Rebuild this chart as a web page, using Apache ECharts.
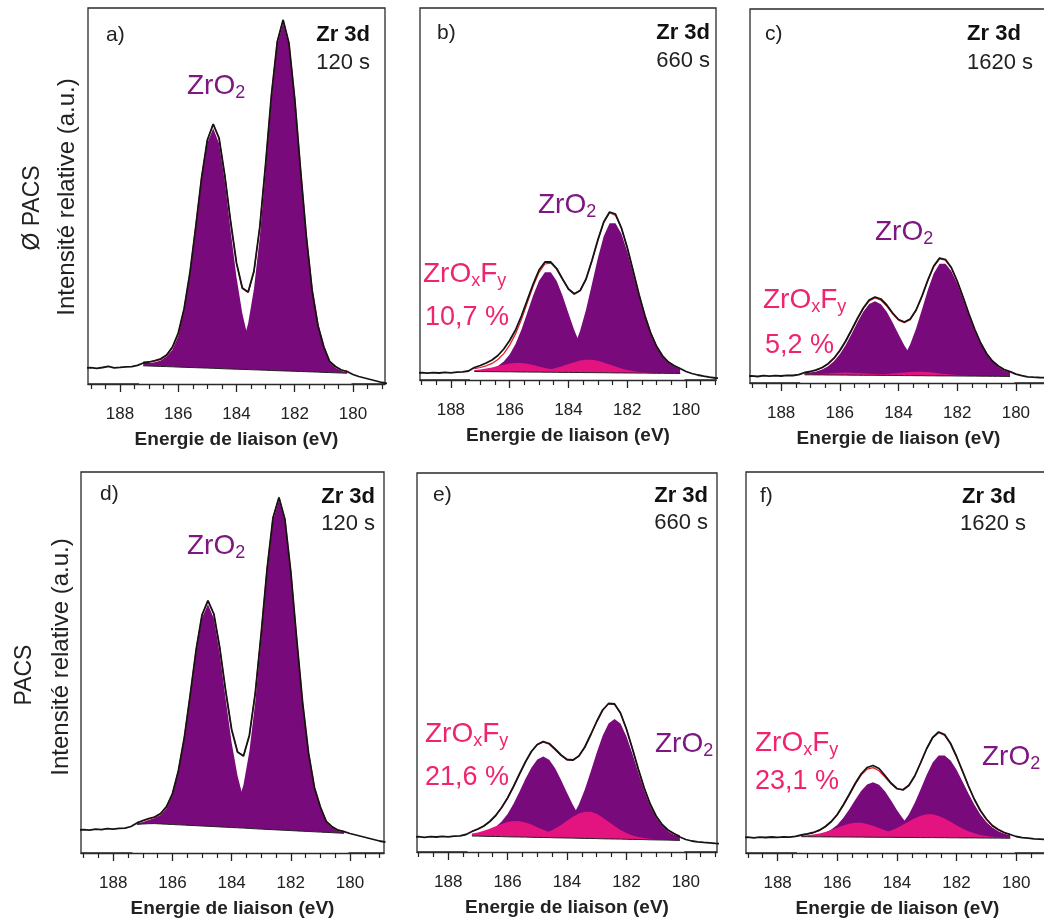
<!DOCTYPE html>
<html>
<head>
<meta charset="utf-8">
<script src="https://cdn.jsdelivr.net/npm/echarts@6/dist/echarts.min.js"></script>
<style>html,body{margin:0;padding:0;background:#fff}#chart{width:1044px;height:922px}</style>
</head>
<body>
<div id="chart"></div>
<script>
// ---------- DATA (intensity in a.u.) ----------
const energy = [189.2,189.0,188.8,188.6,188.4,188.2,188.0,187.8,187.6,187.4,187.2,187.0,186.8,186.6,186.4,186.2,186.0,185.8,185.6,185.4,185.2,185.0,184.8,184.6,184.4,184.2,184.0,183.8,183.6,183.4,183.2,183.0,182.8,182.6,182.4,182.2,182.0,181.8,181.6,181.4,181.2,181.0,180.8,180.6,180.4,180.2,180.0,179.8,179.6,179.4,179.2,179.0,178.8];
const fitEnergy = [187.2,187.0,186.8,186.6,186.4,186.2,186.0,185.8,185.6,185.4,185.2,185.0,184.8,184.6,184.4,184.2,184.0,183.8,183.6,183.4,183.2,183.0,182.8,182.6,182.4,182.2,182.0,181.8,181.6,181.4,181.2,181.0,180.8,180.6,180.4,180.2];
const majorTicks = [180, 182, 184, 186, 188];
const minorTicks = [179, 179.5, 180.5, 181, 181.5, 182.5, 183, 183.5, 184.5, 185, 185.5, 186.5, 187, 187.5, 188.5, 189];
const etchTimes = ['120 s', '660 s', '1620 s'];
const oxyfluoridePct = ['10,7 %', '5,2 %', '21,6 %', '23,1 %'];

// a) Ø PACS 120 s
const rawA = [16,16.4,15.6,16.5,17.6,16.2,16.6,17.1,17.4,18.6,21,22,23.5,25.2,29,37,51,75,111,157,206,244,260,246,208,162,121,96,92,113,157,220,289,342,364,341,285,214,147,93,58,37,22.5,17.5,14,12.5,9.5,7.5,6,4.5,3,1.5,0.5];
const backgroundA = [18.2,18.0,17.8,17.6,17.4,17.2,16.9,16.7,16.5,16.3,16.1,15.9,15.7,15.5,15.2,15.0,14.8,14.6,14.4,14.2,14.0,13.8,13.5,13.3,13.1,12.9,12.7,12.5,12.3,12.1,11.9,11.6,11.4,11.2,11.0,10.8];
const zro2_52_A = [1,1,1,1,1,2,2,2,2,3,3,3,4,5,6,9,14,25,46,81,133,200,271,326,348,326,271,200,133,81,46,25,10,5,2,1];
const zro2_32_A = [3,3,4,6,10,17,31,56,92,138,187,225,240,225,187,138,92,56,31,17,10,6,4,3,3,2,2,2,2,1,1,1,1,1,1,1];

// b) Ø PACS 660 s
const rawB = [7.0,7.3,6.8,7.4,7.0,7.6,7.2,7.9,8.2,9.0,12.5,14.5,17,20,24.5,31,39.5,50,64,80,96,110,118,118,111.5,101,91,86,89.5,101,119.5,140,158,168,166,152.2,132.5,109.2,85.5,64.4,46.8,33.5,24.2,18,14.2,11.5,8.5,6.5,5,3.8,2.8,2.0,1.6];
const backgroundB = [8.5,8.4,8.4,8.3,8.3,8.2,8.2,8.1,8.0,8.0,7.9,7.9,7.8,7.8,7.7,7.6,7.6,7.5,7.5,7.4,7.4,7.3,7.3,7.2,7.1,7.1,7.0,7.0,6.9,6.9,6.8,6.7,6.7,6.6,6.6,6.5];
const zro2_52_B = [0.4,0.5,0.5,0.6,0.6,0.7,0.8,0.8,0.9,1.1,1.3,1.6,2.1,3.1,5.0,8.7,15.2,25.9,41.9,63.2,88.5,114.5,136.5,149.6,149.7,139.5,121.6,99.5,76.7,56.0,38.9,25.9,16.7,10.7,7.0,4.5];
const zro2_32_B = [1.0,1.4,2.1,3.3,5.8,10.2,17.4,28.0,42.3,59.2,76.6,91.3,99.9,99.9,91.3,76.6,59.2,42.3,28.0,17.4,10.2,5.8,3.3,2.1,1.4,1.0,0.8,0.7,0.6,0.6,0.5,0.5,0.4,0.4,0.3,0.3];
const zroxfy_52_B = [0.1,0.1,0.1,0.1,0.1,0.2,0.2,0.3,0.3,0.5,0.8,1.2,1.9,3.0,4.5,6.3,8.3,10.3,11.9,12.9,12.9,11.9,10.3,8.3,6.3,4.5,3.0,1.9,1.2,0.8,0.5,0.3,0.3,0.2,0.2,0.1];
const zroxfy_32_B = [1.3,2.1,3.1,4.3,5.7,7.1,8.3,8.9,8.9,8.3,7.1,5.7,4.3,3.1,2.1,1.3,0.8,0.5,0.3,0.2,0.2,0.2,0.1,0.1,0.1,0.1,0.1,0.1,0.1,0.1,0.1,0.1,0.1,0.1,0.1,0.1];

// c) Ø PACS 1620 s
const rawC = [6.8,7.1,6.5,7.3,6.9,7.4,7.0,7.6,7.5,8.3,10.3,11.5,13.2,15.5,19.3,24.8,32.5,42,53,64.5,75,83,86,84,78,70,63.5,61,64,73,87,103,117,125,123.5,115.5,102,86,69,53.5,40,29.5,22,17,13.5,11.3,8.8,7.3,6.2,5.8,5.5,5.3,5.1];
const backgroundC = [8.2,8.2,8.1,8.1,8.0,8.0,7.9,7.9,7.8,7.8,7.7,7.7,7.7,7.6,7.6,7.5,7.5,7.4,7.4,7.3,7.3,7.2,7.2,7.1,7.1,7.1,7.0,7.0,6.9,6.9,6.8,6.8,6.7,6.7,6.6,6.6];
const zro2_52_C = [0.3,0.3,0.4,0.4,0.5,0.5,0.6,0.6,0.7,0.8,0.9,1.2,1.5,2.3,3.7,6.5,11.4,19.4,31.3,47.3,66.2,85.7,102.2,112.1,112.1,105.0,92.5,76.9,60.5,45.2,32.1,21.9,14.5,9.4,6.1,4.1];
const zro2_32_C = [1.6,2.3,3.5,5.5,8.7,13.8,20.9,30.2,41.3,52.9,63.6,71.2,74,71.2,63.6,52.9,41.3,30.2,20.9,13.8,8.7,5.5,3.5,2.3,1.6,1.3,1.0,0.9,0.8,0.7,0.6,0.6,0.5,0.5,0.4,0.4];
const zroxfy_52_C = [0.1,0.1,0.1,0.1,0.1,0.1,0.1,0.1,0.1,0.2,0.2,0.4,0.6,0.9,1.4,1.9,2.5,3.2,3.7,4.0,4.0,3.7,3.2,2.5,1.9,1.4,0.9,0.6,0.4,0.2,0.2,0.1,0.1,0.1,0.1,0.1];
const zroxfy_32_C = [0.4,0.6,0.9,1.2,1.6,2.0,2.3,2.5,2.5,2.3,2.0,1.6,1.2,0.9,0.6,0.4,0.2,0.1,0.1,0.1,0.1,0.1,0.1,0.1,0.1,0.1,0.1,0.1,0.1,0.1,0.1,0.1,0.1,0.1,0.1,0.1];

// d) PACS 120 s
const rawD = [22.8,23.4,22.9,23.8,23.3,24.4,23.9,24.6,24.9,26.5,30,32.5,34.5,36,39.5,46.3,59.2,82.1,115,158,203,238,252.3,239,205,162,123.5,101,97,117.6,160,219.4,284.4,335.3,355.4,333.8,281.2,213.7,150.2,99.8,65.3,45.9,31.5,26.1,22.8,21.4,19.5,18,16.5,15,13.5,12,10.8];
const backgroundD = [28.6,29.0,29.3,29.4,29.1,28.8,28.5,28.2,27.9,27.6,27.3,27.0,26.7,26.4,26.1,25.8,25.5,25.2,24.9,24.6,24.2,23.9,23.6,23.3,23.0,22.7,22.4,22.1,21.8,21.5,21.2,20.9,20.6,20.3,20.0,19.7];
const zro2_52_D = [1,1,1,1,1,1.5,1.7,1.9,2.1,2.4,2.7,3.1,3.6,4.5,6,8,13,24,43,77,127,190,257,309,330,309,257,190,127,77,43,24,10,5,2,1];
const zro2_32_D = [1,2,3.8,5.5,9,16,29,52,85,128,173,208,222,208,173,128,85,52,29,16,9,5.5,3.8,3.0,2.4,2.1,1.8,1.6,1.4,1.3,1.1,1.0,0.9,0.8,0.8,0.7];

// e) PACS 660 s
const rawE = [14.8,15.3,14.7,15.4,15.0,15.6,15.2,15.8,16.2,17.5,20.5,23,26,30.5,36.5,44.5,54,65.5,78,90,100.5,107.5,110.5,108.5,103,97,92.5,92,96,105,117.5,130.5,142,148.5,148,139,123,103.5,83,64,48,36,27.5,22,18.5,15,12.5,11,10.2,9.6,9.1,8.6,8.3];
const backgroundE = [16.0,15.9,15.7,15.6,15.5,15.4,15.2,15.1,15.0,14.9,14.7,14.6,14.5,14.4,14.2,14.1,14.0,13.9,13.7,13.6,13.5,13.4,13.2,13.1,13.0,12.9,12.7,12.6,12.5,12.4,12.2,12.1,12.0,11.9,11.7,11.6];
const zro2_52_E = [0.6,0.6,0.7,0.8,0.8,0.9,1.0,1.1,1.2,1.4,1.7,2.1,2.7,3.7,5.6,8.9,14.2,22.3,33.9,49.0,66.9,85.9,103.1,115.5,120,115.5,103.1,85.9,66.9,49.0,33.9,22.3,14.2,8.9,5.6,3.7];
const zro2_32_E = [1.8,2.5,3.8,6.0,9.6,15.1,22.9,33.1,45.2,58.0,69.6,77.9,81,77.9,69.6,58.0,45.2,33.1,22.9,15.1,9.6,6.0,3.8,2.5,1.8,1.4,1.1,1.0,0.8,0.8,0.7,0.6,0.6,0.5,0.5,0.4];
const zroxfy_52_E = [0.2,0.2,0.2,0.3,0.3,0.4,0.4,0.5,0.7,1.0,1.6,2.5,4.0,6.2,9.2,13.0,17.2,21.4,24.8,26.7,26.7,24.8,21.4,17.2,13.0,9.2,6.2,4.0,2.5,1.6,1.0,0.7,0.5,0.4,0.4,0.3];
const zroxfy_32_E = [2.4,3.7,5.5,7.7,10.2,12.7,14.7,15.8,15.8,14.7,12.7,10.2,7.7,5.5,3.7,2.4,1.5,0.9,0.6,0.4,0.3,0.2,0.2,0.1,0.1,0.1,0.1,0.1,0.1,0.1,0.1,0.1,0.1,0.1,0.1,0.1];

// f) PACS 1620 s
const rawF = [15.4,15.8,15.2,15.9,15.5,16.0,15.6,16.1,15.9,16.6,18,19.2,20.5,22.8,26.5,31.5,38.5,48,58.5,69.5,79,85.5,87.5,84.5,77.5,70,64.5,63,67.5,77,90.5,104.5,115.5,121,118.5,109.5,96.5,82,67,53.5,42.5,34,27.5,23.5,20.5,18.5,16.5,15.3,14.8,14.2,13.8,13.4,13.2];
const backgroundF = [16.3,16.3,16.2,16.2,16.1,16.1,16.0,16.0,16.0,15.9,15.9,15.8,15.8,15.7,15.7,15.7,15.6,15.6,15.5,15.5,15.4,15.4,15.4,15.3,15.3,15.2,15.2,15.1,15.1,15.1,15.0,15.0,14.9,14.9,14.8,14.8];
const zro2_52_F = [0.2,0.2,0.3,0.3,0.3,0.4,0.4,0.5,0.5,0.6,0.7,0.9,1.1,1.7,2.7,4.8,8.4,14.3,23.0,34.7,48.6,62.9,75.0,82.3,82.3,77.2,68.0,56.5,44.4,33.2,23.6,16.1,10.6,6.9,4.5,3.0];
const zro2_32_F = [0.6,0.9,1.4,2.4,4.2,7.3,12.1,18.9,27.5,37.0,46.0,52.6,55,52.6,46.0,37.0,27.5,18.9,12.1,7.3,4.2,2.4,1.4,0.9,0.6,0.5,0.4,0.4,0.3,0.3,0.3,0.3,0.2,0.2,0.2,0.2];
const zroxfy_52_F = [0.2,0.2,0.2,0.2,0.3,0.3,0.3,0.4,0.5,0.6,0.9,1.3,2.0,3.0,4.6,6.7,9.4,12.6,16.0,19.2,21.8,23.3,23.3,21.8,19.2,16.0,12.6,9.4,6.7,4.6,3.0,2.0,1.3,0.9,0.6,0.5];
const zroxfy_32_F = [0.8,1.4,2.2,3.3,5.0,7.0,9.2,11.5,13.3,14.4,14.4,13.3,11.5,9.2,7.0,5.0,3.3,2.2,1.4,0.8,0.5,0.4,0.3,0.2,0.2,0.1,0.1,0.1,0.1,0.1,0.1,0.1,0.1,0.1,0.1,0.1];

// ---------- LAYOUT / STYLE ----------
const FONT = '"Liberation Sans", Arial, Helvetica, sans-serif';
const PURPLE = '#790a7b', PINK = '#e3147f', FIT = '#e31a1f', INK = '#141414';
const LABEL_PURPLE = '#7e1780', LABEL_PINK = '#f0246e';
const axisTitle = 'Energie de liaison (eV)';

const panels = [
  { id: 'a)', time: etchTimes[0], raw: rawA, bg: backgroundA, zro2: [zro2_52_A, zro2_32_A], zroxfy: [], box: [88, 8, 297, 376], x: [178.9, 189.1] },
  { id: 'b)', time: etchTimes[1], raw: rawB, bg: backgroundB, zro2: [zro2_52_B, zro2_32_B], zroxfy: [zroxfy_52_B, zroxfy_32_B], box: [420, 8, 296, 372], x: [178.98, 189.05] },
  { id: 'c)', time: etchTimes[2], raw: rawC, bg: backgroundC, zro2: [zro2_52_C, zro2_32_C], zroxfy: [zroxfy_52_C, zroxfy_32_C], box: [750, 9, 297, 374], x: [178.94, 189.06] },
  { id: 'd)', time: etchTimes[0], raw: rawD, bg: backgroundD, zro2: [zro2_52_D, zro2_32_D], zroxfy: [], box: [81, 472, 303, 381], x: [178.85, 189.09] },
  { id: 'e)', time: etchTimes[1], raw: rawE, bg: backgroundE, zro2: [zro2_52_E, zro2_32_E], zroxfy: [zroxfy_52_E, zroxfy_32_E], box: [417, 473, 300, 379], x: [178.95, 189.05] },
  { id: 'f)', time: etchTimes[2], raw: rawF, bg: backgroundF, zro2: [zro2_52_F, zro2_32_F], zroxfy: [zroxfy_52_F, zroxfy_32_F], box: [746, 472, 303, 381], x: [178.9, 189.06] }
];

const grid = [], xAxis = [], yAxis = [], series = [];
panels.forEach((p, i) => {
  grid.push({ left: p.box[0], top: p.box[1], width: p.box[2], height: p.box[3], show: true,
    borderColor: '#2a2a2a', borderWidth: 1.3, backgroundColor: 'rgba(0,0,0,0)', containLabel: false, outerBoundsMode: 'none' });
  xAxis.push({ gridIndex: i, type: 'value', inverse: true, min: p.x[0], max: p.x[1], position: 'bottom', z: 10,
    axisLine: { show: true, onZero: false, lineStyle: { color: '#2a2a2a', width: 1.3 } },
    axisTick: { show: true, customValues: majorTicks, length: 8, lineStyle: { color: '#222', width: 1.3 } },
    axisLabel: { show: true, customValues: majorTicks, margin: 22, fontSize: 17, color: '#222', fontFamily: FONT },
    splitLine: { show: false },
    name: axisTitle, nameLocation: 'middle', nameGap: 46, nameMoveOverlap: false,
    nameTextStyle: { fontSize: 19, fontWeight: 'bold', color: '#222', fontFamily: FONT } });
  xAxis.push({ gridIndex: i, type: 'value', inverse: true, min: p.x[0], max: p.x[1], position: 'bottom', z: 10,
    axisLine: { show: false }, axisLabel: { show: false }, splitLine: { show: false },
    axisTick: { show: true, customValues: minorTicks, length: 5, lineStyle: { color: '#222', width: 1.2 } } });
  yAxis.push({ gridIndex: i, type: 'value', min: 0, max: p.box[3], show: false });

  const base = { type: 'line', xAxisIndex: 2 * i, yAxisIndex: i, symbol: 'none', showSymbol: false,
    silent: true, animation: false, clip: true };
  const bgPoints = fitEnergy.map((e, k) => [e, p.bg[k]]);
  const last = fitEnergy.length - 1;
  const comps = p.zro2.map(c => [c, PURPLE]).concat(p.zroxfy.map(c => [c, PINK]));
  comps.forEach(([c, col]) => series.push(Object.assign({}, base, {
    data: fitEnergy.map((e, k) => [e, p.bg[k] + c[k]]),
    lineStyle: { width: 0, opacity: 0 },
    areaStyle: { color: col, opacity: 1, origin: 'start' } })));
  // white mask below the background (slightly wider than the fit window so no fill edge leaks)
  series.push(Object.assign({}, base, {
    data: [[fitEnergy[0] + 0.15, p.bg[0]]].concat(bgPoints, [[fitEnergy[last] - 0.15, p.bg[last]]]),
    lineStyle: { width: 0, opacity: 0 },
    areaStyle: { color: '#ffffff', opacity: 1, origin: 'start' } }));
  // background line
  series.push(Object.assign({}, base, { data: bgPoints, lineStyle: { color: '#222', width: 1 } }));
  // fit envelope
  series.push(Object.assign({}, base, {
    data: fitEnergy.map((e, k) => [e, p.bg[k] + comps.reduce((s, cc) => s + cc[0][k], 0)]),
    lineStyle: { color: FIT, width: 1.2 } }));
  // measured spectrum
  series.push(Object.assign({}, base, {
    data: energy.map((e, k) => [e, p.raw[k]]),
    lineStyle: { color: INK, width: 1.8 } }));
});

function txt(x, y, text, font, fill, align, extra) {
  return Object.assign({ type: 'text', x: x, y: y, silent: true, z: 100,
    style: Object.assign({ text: text, font: font, fill: fill, textAlign: align, align: align,
      textVerticalAlign: 'middle', verticalAlign: 'middle' }, (extra && extra.style) || {}) },
    extra && extra.rotation !== undefined ? { rotation: extra.rotation } : {});
}
const bigFont = '28px ' + FONT;
const pctFont = '27px ' + FONT;
const subRich = { s: { font: '18px ' + FONT, lineHeight: 18, verticalAlign: 'bottom' } };
const withSub = { style: { lineHeight: 32, rich: subRich } };
const zro2Text = 'ZrO{s|2}';
const zroxfyText = 'ZrO{s|x}F{s|y}';
const regFont = '22px ' + FONT, boldFont = 'bold 22px ' + FONT, idFont = '21px ' + FONT;
const sideFont = '24px ' + FONT, pacsFont = '23px ' + FONT;

const graphic = [
  // row titles
  txt(33, 208, 'Ø PACS', pacsFont, '#222', 'center', { rotation: Math.PI / 2 }),
  txt(67, 197, 'Intensité relative (a.u.)', sideFont, '#222', 'center', { rotation: Math.PI / 2 }),
  txt(25, 675, 'PACS', pacsFont, '#222', 'center', { rotation: Math.PI / 2 }),
  txt(61, 657, 'Intensité relative (a.u.)', sideFont, '#222', 'center', { rotation: Math.PI / 2 }),
  // panel ids
  txt(106, 35, panels[0].id, idFont, '#222', 'left'),
  txt(437, 33, panels[1].id, idFont, '#222', 'left'),
  txt(765, 34, panels[2].id, idFont, '#222', 'left'),
  txt(100, 494, panels[3].id, idFont, '#222', 'left'),
  txt(433, 495, panels[4].id, idFont, '#222', 'left'),
  txt(760, 496, panels[5].id, idFont, '#222', 'left'),
  // Zr 3d + time
  txt(370, 35, 'Zr 3d', boldFont, '#111', 'right'), txt(370, 63, panels[0].time, regFont, '#222', 'right'),
  txt(710, 33, 'Zr 3d', boldFont, '#111', 'right'), txt(710, 61, panels[1].time, regFont, '#222', 'right'),
  txt(994, 34, 'Zr 3d', boldFont, '#111', 'center'), txt(1000, 63, panels[2].time, regFont, '#222', 'center'),
  txt(375, 497, 'Zr 3d', boldFont, '#111', 'right'), txt(375, 524, panels[3].time, regFont, '#222', 'right'),
  txt(708, 496, 'Zr 3d', boldFont, '#111', 'right'), txt(708, 523, panels[4].time, regFont, '#222', 'right'),
  txt(989, 497, 'Zr 3d', boldFont, '#111', 'center'), txt(993, 524, panels[5].time, regFont, '#222', 'center'),
  // component labels
  txt(187, 86, zro2Text, bigFont, LABEL_PURPLE, 'left', withSub),
  txt(538, 205, zro2Text, bigFont, LABEL_PURPLE, 'left', withSub),
  txt(423, 274, zroxfyText, bigFont, LABEL_PINK, 'left', withSub),
  txt(425, 318, oxyfluoridePct[0], pctFont, LABEL_PINK, 'left'),
  txt(875, 232, zro2Text, bigFont, LABEL_PURPLE, 'left', withSub),
  txt(763, 300, zroxfyText, bigFont, LABEL_PINK, 'left', withSub),
  txt(765, 346, oxyfluoridePct[1], pctFont, LABEL_PINK, 'left'),
  txt(187, 546, zro2Text, bigFont, LABEL_PURPLE, 'left', withSub),
  txt(425, 734, zroxfyText, bigFont, LABEL_PINK, 'left', withSub),
  txt(425, 778, oxyfluoridePct[2], pctFont, LABEL_PINK, 'left'),
  txt(655, 744, zro2Text, bigFont, LABEL_PURPLE, 'left', withSub),
  txt(755, 743, zroxfyText, bigFont, LABEL_PINK, 'left', withSub),
  txt(755, 782, oxyfluoridePct[3], pctFont, LABEL_PINK, 'left'),
  txt(982, 757, zro2Text, bigFont, LABEL_PURPLE, 'left', withSub)
];

const chart = echarts.init(document.getElementById('chart'), null, { renderer: 'canvas', width: 1044, height: 922 });
chart.setOption({
  backgroundColor: '#ffffff',
  animation: false,
  textStyle: { fontFamily: FONT },
  grid: grid, xAxis: xAxis, yAxis: yAxis, series: series, graphic: graphic
});
</script>
</body>
</html>
